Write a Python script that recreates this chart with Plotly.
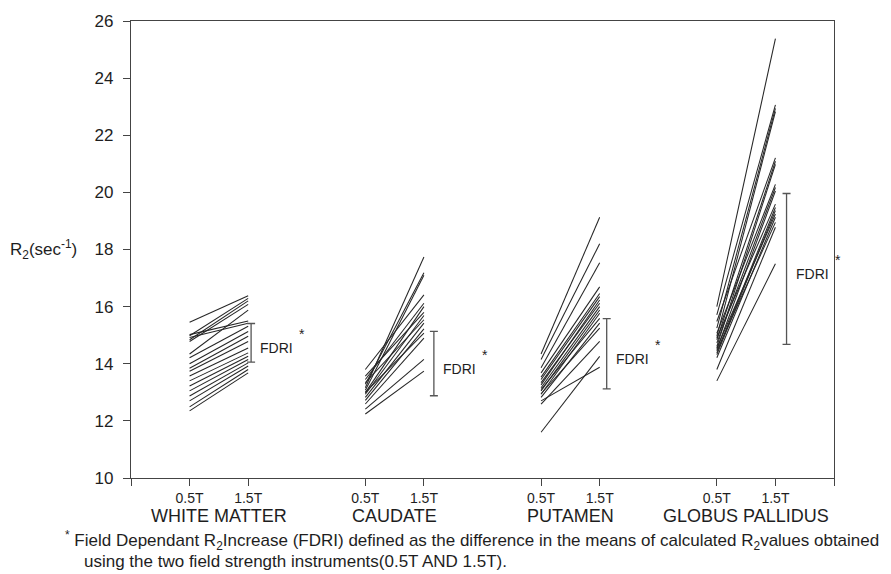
import plotly.graph_objects as go

# Regions and the x positions of their 0.5T / 1.5T measurements
regions = ["WHITE MATTER", "CAUDATE", "PUTAMEN", "GLOBUS PALLIDUS"]
x_05 = [1, 4, 7, 10]
x_15 = [2, 5, 8, 11]

# Per-subject R2 (sec^-1) at 0.5T and 1.5T for each region
wm_05 = [15.45, 15.02, 14.98, 14.92, 14.84, 14.78, 14.34, 14.21, 14.00, 13.84,
         13.74, 13.57, 13.40, 13.22, 13.05, 12.87, 12.70, 12.49, 12.35]
wm_15 = [16.38, 15.50, 16.29, 15.42, 16.20, 16.08, 15.88, 15.31, 15.13, 14.96,
         14.78, 14.55, 14.38, 14.26, 14.15, 14.03, 13.92, 13.80, 13.68]

cd_05 = [13.16, 13.28, 13.07, 13.80, 13.45, 12.99, 13.57, 12.93, 13.34, 12.82,
         12.72, 13.00, 12.59, 12.41, 12.24]
cd_15 = [17.74, 17.19, 17.10, 16.41, 16.12, 16.00, 15.80, 15.69, 15.54, 15.42,
         15.22, 15.07, 14.90, 14.15, 13.74]

pu_05 = [14.34, 14.15, 13.86, 13.68, 13.53, 13.45, 13.26, 13.34, 13.16, 13.05,
         12.93, 13.10, 12.82, 12.95, 12.70, 11.60, 12.59]
pu_15 = [19.13, 18.20, 17.54, 16.69, 16.46, 16.35, 16.23, 16.12, 16.00, 15.88,
         15.77, 15.59, 15.42, 15.25, 13.88, 14.26, 14.78]

gp_05 = [16.00, 15.71, 15.25, 14.96, 15.48, 14.84, 14.61, 15.07, 14.73, 14.50,
         14.90, 14.38, 14.32, 14.55, 14.21, 14.45, 13.80, 13.40]
gp_15 = [25.38, 23.06, 22.94, 22.83, 21.21, 21.09, 20.98, 20.28, 20.17, 20.05,
         19.59, 19.47, 19.36, 19.24, 19.13, 18.95, 18.78, 17.50]

series_05 = [wm_05, cd_05, pu_05, gp_05]
series_15 = [wm_15, cd_15, pu_15, gp_15]

# FDRI brackets: x position and the low / high ends of each bracket
fdri_x = [2.05, 5.17, 8.12, 11.19]
fdri_low = [14.06, 12.88, 13.12, 14.68]
fdri_high = [15.41, 15.13, 15.58, 19.96]

# Bottom axis ticks
tick_vals = [0, 1, 2, 4, 5, 7, 8, 10, 11, 12]
tick_text = ["", "0.5T", "1.5T", "0.5T", "1.5T", "0.5T", "1.5T", "0.5T", "1.5T", ""]

FONT = "Liberation Sans, Arial, Helvetica, sans-serif"
INK = "#1e1e1e"

fig = go.Figure()

# One segment per subject, joining its 0.5T and 1.5T values
for g in range(len(regions)):
    xs, ys = [], []
    for a, b in zip(series_05[g], series_15[g]):
        xs += [x_05[g], x_15[g], None]
        ys += [a, b, None]
    fig.add_trace(go.Scatter(
        x=xs, y=ys, mode="lines",
        line=dict(color="#262626", width=1.05),
        hoverinfo="skip", showlegend=False,
    ))

# FDRI brackets drawn as capped error bars around their midpoints
mid = [(lo + hi) / 2 for lo, hi in zip(fdri_low, fdri_high)]
half = [(hi - lo) / 2 for lo, hi in zip(fdri_low, fdri_high)]
fig.add_trace(go.Scatter(
    x=fdri_x, y=mid, mode="markers",
    marker=dict(size=1, opacity=0),
    error_y=dict(type="data", array=half, symmetric=True,
                 color="#555555", thickness=1.3, width=4),
    hoverinfo="skip", showlegend=False,
))

annotations = []
for g in range(len(regions)):
    # FDRI label beside each bracket, with its asterisk
    annotations.append(dict(
        x=fdri_x[g], y=mid[g], xref="x", yref="y",
        text="FDRI", showarrow=False, xanchor="left", yanchor="middle",
        xshift=7, yshift=-5, font=dict(family=FONT, size=14, color=INK),
    ))
    annotations.append(dict(
        x=fdri_x[g], y=mid[g], xref="x", yref="y",
        text="*", showarrow=False, xanchor="left", yanchor="middle",
        xshift=46, yshift=9, font=dict(family=FONT, size=14, color=INK),
    ))
    # Region names under the tick labels
    annotations.append(dict(
        x=(x_05[g] + x_15[g]) / 2, y=-0.083, xref="x", yref="paper",
        text=regions[g], showarrow=False, xanchor="center", yanchor="middle",
        font=dict(family=FONT, size=18, color=INK),
    ))

# Y axis title
annotations.append(dict(
    x=-0.125, y=0.5, xref="paper", yref="paper",
    text="R<sub>2</sub>(sec<sup>-1</sup>)", showarrow=False,
    xanchor="center", yanchor="middle",
    font=dict(family=FONT, size=17, color=INK),
))

# Footnote
annotations.append(dict(
    x=-0.097, y=-0.137, xref="paper", yref="paper",
    text="<sup>*</sup> Field Dependant R<sub>2</sub>Increase (FDRI) defined as the difference "
         "in the means of calculated R<sub>2</sub>values obtained",
    showarrow=False, xanchor="left", yanchor="middle",
    font=dict(family=FONT, size=17, color=INK),
))
annotations.append(dict(
    x=-0.07, y=-0.183, xref="paper", yref="paper",
    text="using the two field strength instruments(0.5T AND 1.5T).",
    showarrow=False, xanchor="left", yanchor="middle",
    font=dict(family=FONT, size=17, color=INK),
))

fig.update_layout(
    width=891, height=574,
    margin=dict(l=131, r=57, t=17, b=96),
    paper_bgcolor="white", plot_bgcolor="white",
    font=dict(family=FONT, color=INK),
    annotations=annotations,
    xaxis=dict(
        range=[0, 12], tickmode="array", tickvals=tick_vals, ticktext=tick_text,
        ticks="outside", ticklen=7, tickwidth=1, tickcolor="#444444",
        showline=True, linecolor="#444444", linewidth=1.2, mirror=True,
        showgrid=False, zeroline=False,
        tickfont=dict(family=FONT, size=14, color=INK),
    ),
    yaxis=dict(
        range=[10, 26], dtick=2, tick0=10,
        ticks="outside", ticklen=7, tickwidth=1, tickcolor="#444444",
        showline=True, linecolor="#444444", linewidth=1.2, mirror=True,
        showgrid=False, zeroline=False, ticklabelstandoff=6,
        tickfont=dict(family=FONT, size=17, color=INK),
    ),
)

fig.write_html("out.html")
